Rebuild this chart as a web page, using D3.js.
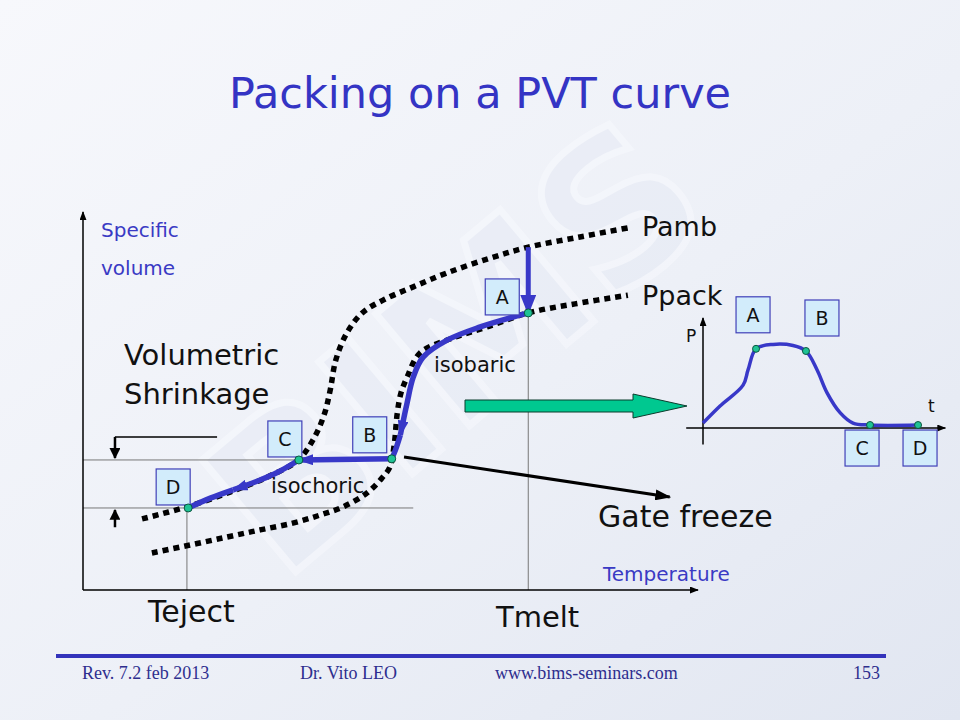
<!DOCTYPE html>
<html>
<head>
<meta charset="utf-8">
<script src="https://cdn.jsdelivr.net/npm/d3@7"></script>
<style>
  body { margin: 0; background: #fff; }
  svg { display: block; }
  .hand { font-family: "Comic Sans MS", "DejaVu Sans", sans-serif; }
  .foot { font-family: "Liberation Serif", "Times New Roman", serif; }
</style>
</head>
<body>
<svg id="slide" width="960" height="720"></svg>
<script>
// specific volume vs temperature, both in 0..100 chart units
const pambCurve = [[9.6,18.8],[16.9,22.0],[23.9,25.9],[30.4,30.2],[35.0,34.4],[37.4,39.7],[39.2,46.3],
  [40.2,52.9],[41.1,60.8],[42.9,68.0],[45.4,73.3],[48.8,76.7],[53.7,80.2],[59.2,83.9],[66.2,87.8],
  [72.4,90.7],[80.8,93.4],[88.6,95.8]];
const ppackCurve = [[11.2,9.8],[17.4,11.9],[23.4,14.0],[28.8,15.9],[34.1,17.7],[38.5,19.8],[42.3,22.0],
  [46.2,25.7],[48.6,29.6],[49.9,32.5],[50.6,38.4],[51.1,46.8],[51.7,52.1],[52.7,56.3],[54.8,62.7],
  [60.2,66.7],[65.7,69.6],[72.4,73.3],[80.0,75.7],[88.6,78.0]];
const fillStep = [[72.4,90.7],[72.4,73.3]];
const isobaricA = [[72.4,73.3],[69.9,72.2],[64.6,69.6],[59.2,66.1],[55.3,61.6],[53.7,56.3],[52.7,49.5],[51.6,41.0]];
const isobaricB = [[51.6,41.0],[50.8,37.0],[50.2,34.7]];
const isochoric = [[50.2,34.7],[35.1,34.4]];
const coolingA = [[35.1,34.4],[31.5,31.0],[28.8,29.1],[24.4,26.5]];
const coolingB = [[24.4,26.5],[20.7,24.3],[17.1,21.7]];
const stateLabels = ["A","B","C","D"];
const stateT = [72.4, 50.2, 35.1, 17.1];
const stateV = [73.3, 34.7, 34.4, 21.7];
const gateFreeze = [[52.2,35.2],[95.4,24.6]];
const tMelt = 72.4, tEject = 16.9;

// pressure vs time inset, 0..10 units
const pressureCurve = [[0,0.45],[0.71,2.0],[1.67,3.9],[1.88,5.3],[2.21,7.2],[2.92,7.6],[3.75,7.5],
  [4.29,7.0],[4.75,5.3],[5.17,3.2],[5.71,1.4],[6.25,0.45],[6.96,0.27],[8.96,0.27]];
const pressureT = [2.21, 4.29, 6.96, 8.96];
const pressureP = [7.2, 7.0, 0.27, 0.27];

const footer = ["Rev. 7.2 feb 2013", "Dr. Vito LEO", "www.bims-seminars.com", "153"];

const BLUE = "#3838c8";
const svg = d3.select("#slide");
const defs = svg.append("defs");

let bg = defs.append("linearGradient").attr("id", "bg")
    .attr("x1", 0).attr("y1", 0).attr("x2", 1).attr("y2", 1);
bg.append("stop").attr("offset", "0%").attr("stop-color", "#f7f8fc");
bg.append("stop").attr("offset", "55%").attr("stop-color", "#edf0f7");
bg.append("stop").attr("offset", "100%").attr("stop-color", "#e1e6f1");

function marker(id, color, w, h){
    defs.append("marker").attr("id", id)
        .attr("viewBox", "0 0 10 10")
        .attr("refX", 9).attr("refY", 5)
        .attr("markerUnits", "userSpaceOnUse")
        .attr("markerWidth", w).attr("markerHeight", h)
        .attr("preserveAspectRatio", "none")
        .attr("orient", "auto")
      .append("path").attr("d", "M0,0L10,5L0,10z").attr("fill", color);
}
marker("blueBig", BLUE, 20, 16);
marker("blueSmall", BLUE, 16, 11);
marker("black", "#000", 16, 11);
marker("blackMid", "#000", 11, 11);
marker("blackThin", "#000", 9, 7);

svg.append("rect").attr("width", 960).attr("height", 720).attr("fill", "url(#bg)");

// faint watermark
svg.append("text")
    .attr("transform", "translate(500,400) rotate(-40)")
    .attr("text-anchor", "middle")
    .attr("font-family", "DejaVu Sans")
    .attr("font-weight", "bold")
    .attr("font-size", 200)
    .attr("fill", "#e4e9f4")
    .attr("stroke", "#fafbff")
    .attr("stroke-width", 7)
    .attr("opacity", 0.45)
    .text("BIMS");

svg.append("text").attr("class", "hand")
    .attr("x", 480).attr("y", 108)
    .attr("text-anchor", "middle")
    .attr("font-size", 43)
    .attr("fill", "#3434c4")
    .text("Packing on a PVT curve");

// main chart
const x = d3.scaleLinear().domain([0, 100]).range([83, 698]);
const y = d3.scaleLinear().domain([0, 100]).range([590, 212]);
const line = d3.line().x(d => x(d[0])).y(d => y(d[1]));
const curve = d3.line().x(d => x(d[0])).y(d => y(d[1])).curve(d3.curveCatmullRom.alpha(0.5));

const g = svg.append("g");

// thin grey guides
g.append("line").attr("x1", x(tMelt)).attr("x2", x(tMelt)).attr("y1", y(stateV[0])).attr("y2", y(0))
    .attr("stroke", "#777").attr("stroke-width", 1);
g.append("line").attr("x1", x(tEject)).attr("x2", x(tEject)).attr("y1", y(stateV[3])).attr("y2", y(0))
    .attr("stroke", "#777").attr("stroke-width", 1);
g.append("line").attr("x1", x(0)).attr("x2", x(stateT[1])).attr("y1", y(stateV[2])).attr("y2", y(stateV[2]))
    .attr("stroke", "#777").attr("stroke-width", 1);
g.append("line").attr("x1", x(0)).attr("x2", x(53.7)).attr("y1", y(stateV[3])).attr("y2", y(stateV[3]))
    .attr("stroke", "#777").attr("stroke-width", 1);

// axes
g.append("line").attr("x1", x(0)).attr("y1", y(0)).attr("x2", x(100)).attr("y2", y(0))
    .attr("stroke", "#000").attr("stroke-width", 1.5).attr("marker-end", "url(#blackThin)");
g.append("line").attr("x1", x(0)).attr("y1", y(0)).attr("x2", x(0)).attr("y2", y(100))
    .attr("stroke", "#000").attr("stroke-width", 1.5).attr("marker-end", "url(#blackThin)");

// volumetric shrinkage bracket
g.append("line").attr("x1", x(5.2)).attr("x2", x(21.8)).attr("y1", y(40.5)).attr("y2", y(40.5))
    .attr("stroke", "#000").attr("stroke-width", 1.5);
g.append("line").attr("x1", x(5.2)).attr("x2", x(5.2)).attr("y1", y(40.5)).attr("y2", y(stateV[2]) - 2)
    .attr("stroke", "#000").attr("stroke-width", 2.5).attr("marker-end", "url(#blackMid)");
g.append("line").attr("x1", x(5.2)).attr("x2", x(5.2)).attr("y1", y(16.6)).attr("y2", y(stateV[3]) + 2)
    .attr("stroke", "#000").attr("stroke-width", 2.5).attr("marker-end", "url(#blackMid)");

// PVT isobars
[pambCurve, ppackCurve].forEach(c => {
    g.append("path").attr("d", curve(c))
        .attr("fill", "none").attr("stroke", "#000")
        .attr("stroke-width", 5.5).attr("stroke-dasharray", "6,5");
});

// gate freeze arrow
g.append("path").attr("d", line(gateFreeze))
    .attr("stroke", "#000").attr("stroke-width", 3).attr("marker-end", "url(#black)");

// packing path
g.append("path").attr("d", line(fillStep))
    .attr("stroke", BLUE).attr("stroke-width", 5).attr("marker-end", "url(#blueBig)");
[[isobaricA, true], [isobaricB, false], [isochoric, true], [coolingA, true], [coolingB, false]].forEach(p => {
    g.append("path").attr("d", curve(p[0]))
        .attr("fill", "none").attr("stroke", BLUE)
        .attr("stroke-width", 5.5)
        .attr("marker-end", p[1] ? "url(#blueSmall)" : null);
});

// letter boxes, offset from each state point
const boxOff = [[-43, -34], [-39, -42], [-31, -39], [-32, -39]];
function letterBox(parent, px, py, txt){
    parent.append("rect").attr("x", px).attr("y", py).attr("width", 34).attr("height", 36)
        .attr("fill", "#d2ecfb").attr("stroke", "#4040b8").attr("stroke-width", 1.2);
    parent.append("text").attr("class", "hand")
        .attr("x", px + 17).attr("y", py + 25)
        .attr("text-anchor", "middle").attr("font-size", 19).attr("fill", "#111")
        .text(txt);
}
stateLabels.forEach((s, i) => {
    letterBox(g, x(stateT[i]) + boxOff[i][0], y(stateV[i]) + boxOff[i][1], s);
});
stateLabels.forEach((s, i) => {
    g.append("circle").attr("cx", x(stateT[i])).attr("cy", y(stateV[i])).attr("r", 4)
        .attr("fill", "#1fc394").attr("stroke", "#0d5540").attr("stroke-width", 1);
});

// big green arrow
svg.append("path")
    .attr("d", "M465,400H633V394L687,406L633,418V412H465Z")
    .attr("fill", "#00c890").attr("stroke", "#0b3d2d").attr("stroke-width", 1);

// inset P(t)
const tx = d3.scaleLinear().domain([0, 10]).range([703, 943]);
const py = d3.scaleLinear().domain([0, 10]).range([428, 318]);
const pline = d3.line().x(d => tx(d[0])).y(d => py(d[1])).curve(d3.curveCatmullRom.alpha(0.5));
const ins = svg.append("g");
ins.append("line").attr("x1", tx(-0.7)).attr("x2", tx(10.1)).attr("y1", py(0)).attr("y2", py(0))
    .attr("stroke", "#000").attr("stroke-width", 1.5).attr("marker-end", "url(#blackThin)");
ins.append("line").attr("x1", tx(0)).attr("x2", tx(0)).attr("y1", py(-1.5)).attr("y2", py(10))
    .attr("stroke", "#000").attr("stroke-width", 1.5).attr("marker-end", "url(#blackThin)");
ins.append("path").attr("d", pline(pressureCurve))
    .attr("fill", "none").attr("stroke", BLUE).attr("stroke-width", 3.5);
const insBox = [[-20, -52], [-1, -51], [-25, 5], [-15, 5]];
stateLabels.forEach((s, i) => {
    letterBox(ins, tx(pressureT[i]) + insBox[i][0], py(pressureP[i]) + insBox[i][1], s);
});
stateLabels.forEach((s, i) => {
    ins.append("circle").attr("cx", tx(pressureT[i])).attr("cy", py(pressureP[i])).attr("r", 3.5)
        .attr("fill", "#1fc394").attr("stroke", "#0d5540").attr("stroke-width", 1);
});
ins.append("text").attr("class", "hand").attr("x", 686).attr("y", 342)
    .attr("font-size", 17).attr("fill", "#111").text("P");
ins.append("text").attr("class", "hand").attr("x", 928).attr("y", 412)
    .attr("font-size", 17).attr("fill", "#111").text("t");

// labels
const labels = [
    ["Specific", 101, 237, 20, "#3a3ac4"],
    ["volume", 101, 275, 20, "#3a3ac4"],
    ["Temperature", 603, 581, 20, "#3a3ac4"],
    ["Pamb", 642, 236, 27, "#111"],
    ["Ppack", 642, 305, 27, "#111"],
    ["Volumetric", 124, 365, 29, "#111"],
    ["Shrinkage", 124, 404, 29, "#111"],
    ["isobaric", 434, 372, 21, "#111"],
    ["isochoric", 271, 493, 21, "#111"],
    ["Gate freeze", 598, 527, 30, "#111"],
    ["Teject", 148, 622, 30, "#111"],
    ["Tmelt", 496, 627, 29, "#111"]
];
labels.forEach(l => {
    svg.append("text").attr("class", "hand")
        .attr("x", l[1]).attr("y", l[2])
        .attr("font-size", l[3]).attr("fill", l[4])
        .text(l[0]);
});

// footer
svg.append("line").attr("x1", 56).attr("x2", 886).attr("y1", 656).attr("y2", 656)
    .attr("stroke", "#3333bb").attr("stroke-width", 4);
const footX = [82, 300, 495, 853];
footer.forEach((f, i) => {
    svg.append("text").attr("class", "foot")
        .attr("x", footX[i]).attr("y", 679)
        .attr("font-size", 18).attr("fill", "#2e2e8e")
        .text(f);
});
</script>
</body>
</html>
